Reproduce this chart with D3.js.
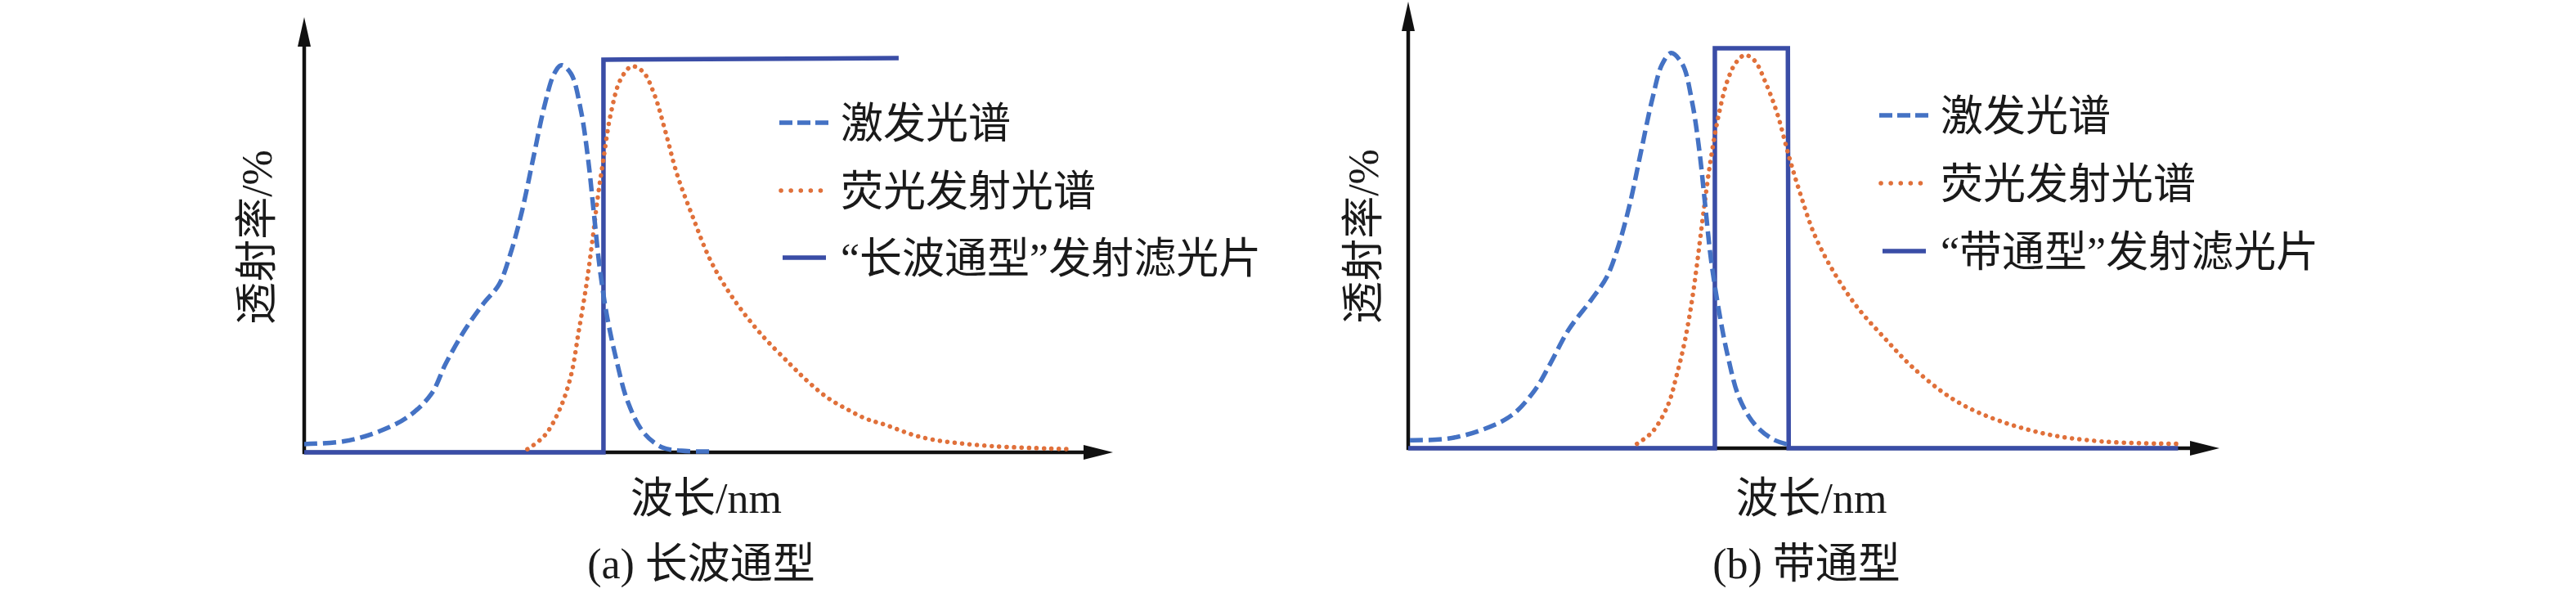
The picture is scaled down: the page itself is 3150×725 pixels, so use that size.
<!DOCTYPE html>
<html>
<head>
<meta charset="utf-8">
<script src="https://cdn.jsdelivr.net/npm/d3@7"></script>
<style>
  html, body { margin: 0; padding: 0; background: #fff; }
  text { font-family: 'Liberation Serif', 'Noto Sans CJK SC', serif; fill: #1a1a1a; }
</style>
</head>
<body>
<script>
// relative wavelength (0-100 along the x axis) and transmittance (%)
const excitationA = [[0, 2.1], [4.9, 2.8], [9.1, 5.2], [12.8, 9.0], [15.7, 14.8], [17.5, 22.6], [19.9, 31.3],
  [22.2, 38.0], [24.1, 42.8], [25.5, 50.6], [26.9, 61.2], [28.3, 74.7], [29.7, 88.2], [30.9, 96.4], [31.8, 98.6],
  [33.0, 96.4], [34.2, 87.2], [35.1, 74.7], [35.8, 61.2], [36.5, 47.6], [37.4, 35.1], [38.6, 23.5], [40.0, 12.9],
  [41.9, 5.2], [44.2, 1.3], [46.6, 0.4], [50.6, 0.2]];
const emissionA = [[27.6, 0.8], [29.7, 4.2], [31.6, 11.0], [33.0, 19.7], [33.9, 30.3], [34.9, 42.8], [35.6, 53.4],
  [36.3, 65.0], [37.0, 74.7], [37.9, 86.2], [39.1, 94.9], [40.5, 98.3], [41.9, 96.9], [43.3, 91.1], [44.7, 81.4],
  [46.1, 70.8], [48.0, 60.2], [50.3, 48.6], [53.1, 39.0], [56.4, 30.3], [60.0, 22.6], [62.4, 17.8], [64.7, 13.9],
  [67.1, 11.0], [69.4, 8.6], [71.7, 7.1], [76.4, 3.8], [83.5, 1.8], [95.1, 0.8]];
const filterA = [[0, 0], [37.0, 0], [37.0, 100], [73.5, 100.4]];

const excitationB = [[0.2, 2.0], [4.9, 2.4], [9.1, 4.6], [12.8, 8.3], [15.6, 14.5], [17.5, 21.1], [19.8, 29.7],
  [22.6, 37.2], [24.5, 42.9], [25.9, 50.5], [27.3, 60.9], [28.7, 74.2], [30.1, 87.4], [31.3, 96.0], [32.4, 98.8],
  [33.8, 96.0], [35.0, 86.5], [35.9, 74.2], [36.6, 60.9], [37.3, 47.6], [38.3, 34.4], [39.4, 23.0], [40.8, 12.6],
  [42.7, 6.0], [45.0, 2.2], [47.1, 0.8]];
const emissionB = [[28.2, 1.1], [30.1, 4.1], [32.0, 10.7], [33.1, 18.3], [34.1, 26.8], [35.0, 37.2], [35.7, 47.6],
  [36.4, 59.0], [37.3, 72.3], [38.3, 83.6], [39.4, 92.2], [40.4, 96.4], [41.5, 98.3], [42.7, 96.9], [44.1, 91.2],
  [45.5, 83.6], [46.9, 73.2], [48.3, 63.8], [50.1, 53.3], [52.5, 43.9], [55.3, 35.4], [58.6, 27.8], [62.2, 20.2],
  [66.9, 12.6], [71.5, 7.9], [78.5, 3.6], [85.5, 1.7], [94.9, 1.1]];
const filterB = [[0, 0], [37.8, 0], [37.8, 100], [46.8, 100], [46.9, 0], [94.9, 0]];

const legendLabelsA = ['激发光谱', '荧光发射光谱', '“长波通型”发射滤光片'];
const legendLabelsB = ['激发光谱', '荧光发射光谱', '“带通型”发射滤光片'];
const yLabel = '透射率/%';
const xLabel = '波长/nm';
const captions = ['(a) 长波通型', '(b) 带通型'];

const width = 3150;
const height = 725;
const fontSize = 52;

const colours = {
  axis: '#111111',
  excitation: '#4472c4',
  emission: '#e0703a',
  filter: '#3a4da6'
};

const styles = [
  {stroke: colours.excitation, width: 5.5, dash: '16,7', cap: 'butt'},
  {stroke: colours.emission, width: 5.5, dash: '0.1,9', cap: 'round'},
  {stroke: colours.filter, width: 5.5, dash: null, cap: 'butt'}
];

const panels = [
  {
    excitation: excitationA, emission: emissionA, filter: filterA,
    legend: legendLabelsA, caption: captions[0],
    xRange: [372, 1361], yRange: [553, 73], yTip: 21,
    yLabelX: 332, yLabelY: 290,
    legendX: 953, legendY: [150, 233, 315], legendDots: 12
  },
  {
    excitation: excitationB, emission: emissionB, filter: filterB,
    legend: legendLabelsB, caption: captions[1],
    xRange: [1722, 2714], yRange: [548, 59], yTip: 2,
    yLabelX: 1685, yLabelY: 289,
    legendX: 2298, legendY: [141, 224, 307], legendDots: 12
  }
];

const svg = d3.select('body').append('svg')
    .attr('xmlns', 'http://www.w3.org/2000/svg')
    .attr('width', width)
    .attr('height', height)
    .attr('viewBox', `0 0 ${width} ${height}`);

panels.forEach(p => {
  const x = d3.scaleLinear().domain([0, 100]).range(p.xRange);
  const y = d3.scaleLinear().domain([0, 100]).range(p.yRange);
  const g = svg.append('g');

  const x0 = x(0);
  const y0 = y(0);
  const xEnd = p.xRange[1];
  const arrowLen = 36;

// axes with arrow heads
  g.append('line')
      .attr('x1', x0).attr('y1', y0 + 2)
      .attr('x2', x0).attr('y2', p.yTip + arrowLen - 4)
      .attr('stroke', colours.axis)
      .attr('stroke-width', 4.5);
  g.append('path')
      .attr('d', `M${x0},${p.yTip}L${x0 - 8},${p.yTip + arrowLen}L${x0 + 8},${p.yTip + arrowLen}Z`)
      .attr('fill', colours.axis);

  g.append('line')
      .attr('x1', x0 - 2).attr('y1', y0)
      .attr('x2', xEnd - arrowLen + 4).attr('y2', y0)
      .attr('stroke', colours.axis)
      .attr('stroke-width', 4.5);
  g.append('path')
      .attr('d', `M${xEnd},${y0}L${xEnd - arrowLen},${y0 - 9}L${xEnd - arrowLen},${y0 + 9}Z`)
      .attr('fill', colours.axis);

// filter, emission and excitation curves
  const stepLine = d3.line()
      .x(d => x(d[0]))
      .y(d => y(d[1]));

  const smoothLine = d3.line()
      .curve(d3.curveCatmullRom.alpha(0.5))
      .x(d => x(d[0]))
      .y(d => y(d[1]));

  g.append('path')
      .attr('d', stepLine(p.filter))
      .attr('fill', 'none')
      .attr('stroke', styles[2].stroke)
      .attr('stroke-width', styles[2].width)
      .attr('stroke-linejoin', 'miter');

  [[p.emission, styles[1]], [p.excitation, styles[0]]].forEach(([data, s]) => {
    g.append('path')
        .attr('d', smoothLine(data))
        .attr('fill', 'none')
        .attr('stroke', s.stroke)
        .attr('stroke-width', s.width)
        .attr('stroke-dasharray', s.dash)
        .attr('stroke-linecap', s.cap);
  });

// legend
  const legend = g.append('g')
    .selectAll('g')
    .data(p.legend)
    .enter().append('g')
      .attr('transform', (d, i) => `translate(${p.legendX},${p.legendY[i]})`);

  legend.append('line')
      .attr('x1', (d, i) => i === 1 ? 2 : (i === 2 ? 4 : 0))
      .attr('x2', (d, i) => i === 1 ? 52 : (i === 2 ? 57 : 60))
      .attr('y1', 0).attr('y2', 0)
      .attr('stroke', (d, i) => styles[i].stroke)
      .attr('stroke-width', (d, i) => styles[i].width)
      .attr('stroke-linecap', (d, i) => styles[i].cap)
      .attr('stroke-dasharray', (d, i) => i === 0 ? '16,6' : (i === 1 ? `0.1,${p.legendDots}` : null));

  legend.append('text')
      .attr('x', 75)
      .attr('y', 19)
      .attr('font-size', fontSize)
      .text(d => d);

// axis titles and caption
  g.append('text')
      .attr('transform', `translate(${p.yLabelX},${p.yLabelY}) rotate(-90)`)
      .attr('text-anchor', 'middle')
      .attr('font-size', fontSize)
      .text(yLabel);

  const midX = (p.xRange[0] + p.xRange[1]) / 2 - 3;
  g.append('text')
      .attr('x', midX)
      .attr('y', 627)
      .attr('text-anchor', 'middle')
      .attr('font-size', fontSize)
      .text(xLabel);

  g.append('text')
      .attr('x', midX - 6)
      .attr('y', 707)
      .attr('text-anchor', 'middle')
      .attr('font-size', fontSize)
      .text(p.caption);
});
</script>
</body>
</html>
